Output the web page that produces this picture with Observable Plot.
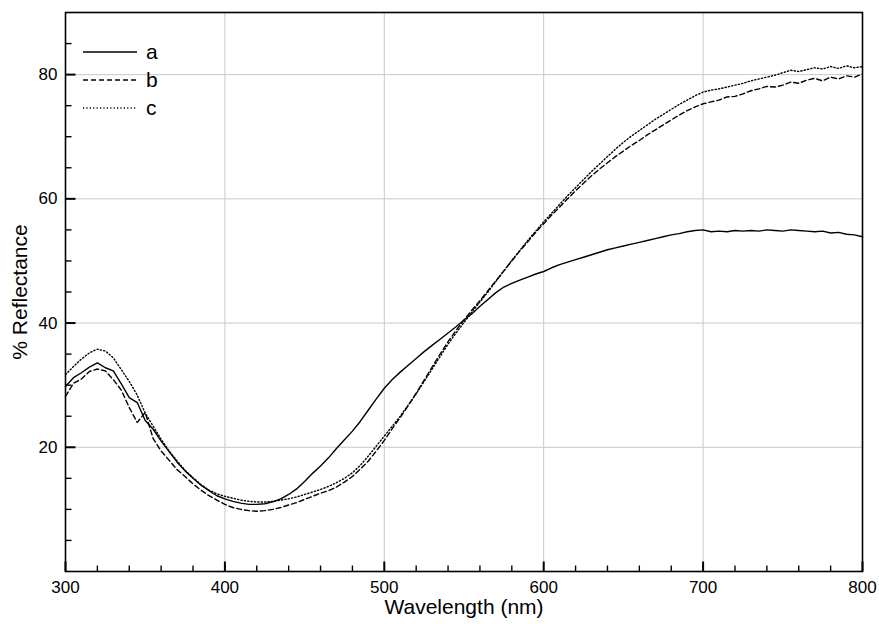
<!DOCTYPE html>
<html><head><meta charset="utf-8">
<script src="https://cdn.jsdelivr.net/npm/d3@7"></script>
<script src="https://cdn.jsdelivr.net/npm/@observablehq/plot@0.6"></script>
<style>
body{margin:0;background:#fff;}
#wrap{position:relative;width:879px;height:624px;}
#legend{position:absolute;left:0;top:0;pointer-events:none;}
</style>
</head><body><div id="wrap"></div>
<script>
const wavelength = [300,305,310,315,320,325,330,335,340,345,350,355,360,365,370,375,380,385,390,395,
400,405,410,415,420,425,430,435,440,445,450,455,460,465,470,475,480,485,490,495,
500,505,510,515,520,525,530,535,540,545,550,555,560,565,570,575,580,585,590,595,
600,605,610,615,620,625,630,635,640,645,650,655,660,665,670,675,680,685,690,695,
700,705,710,715,720,725,730,735,740,745,750,755,760,765,770,775,780,785,790,795,800];

const seriesA = [29.8,31.2,32.0,32.9,33.6,32.8,32.3,30.2,28.0,27.2,24.3,22.9,21.0,19.3,17.6,16.2,15.0,13.9,13.0,12.2,
11.7,11.3,11.0,10.8,10.8,10.9,11.2,11.7,12.4,13.3,14.5,15.8,17.0,18.3,19.8,21.2,22.6,24.2,26.0,27.8,
29.5,30.9,32.1,33.2,34.3,35.4,36.4,37.4,38.4,39.4,40.5,41.5,42.7,43.8,44.9,45.8,46.4,46.9,47.4,47.9,
48.3,48.9,49.4,49.8,50.2,50.6,51.0,51.4,51.8,52.1,52.4,52.7,53.0,53.3,53.6,53.9,54.2,54.4,54.7,54.9,
55.0,54.7,54.8,54.7,54.9,54.8,54.9,54.8,55.0,54.9,54.8,55.0,54.9,54.8,54.7,54.8,54.5,54.6,54.3,54.2,53.9];

const seriesB = [28.2,30.3,31.0,32.2,32.6,32.3,30.9,29.2,26.4,24.0,25.6,21.4,19.4,17.9,16.4,15.3,14.1,13.1,12.2,11.5,
10.8,10.3,10.0,9.8,9.7,9.8,10.0,10.3,10.7,11.1,11.6,12.1,12.6,13.0,13.6,14.4,15.3,16.5,17.8,19.4,
21.1,23.0,24.8,26.7,28.7,30.8,32.9,35.0,37.0,38.8,40.5,42.1,43.6,45.2,46.8,48.4,50.0,51.6,53.1,54.6,
56.0,57.4,58.7,60.0,61.3,62.5,63.7,64.8,65.8,66.8,67.7,68.6,69.4,70.3,71.1,71.9,72.7,73.5,74.2,74.8,
75.3,75.6,75.9,76.4,76.5,76.9,77.4,77.7,78.1,78.0,78.3,78.8,78.6,79.1,79.4,79.0,79.6,79.3,79.8,79.6,80.1];

const seriesC = [31.7,33.0,34.2,35.2,35.8,35.5,34.4,32.5,30.6,28.4,25.5,23.4,21.3,19.4,17.8,16.3,15.1,14.0,13.1,12.5,
12.1,11.8,11.5,11.3,11.2,11.2,11.3,11.5,11.7,12.0,12.4,12.8,13.2,13.7,14.3,15.0,15.9,17.1,18.6,20.2,
21.8,23.4,25.0,26.8,28.6,30.6,32.6,34.6,36.6,38.4,40.1,41.8,43.4,45.0,46.7,48.4,50.1,51.7,53.3,54.8,
56.3,57.7,59.1,60.5,61.8,63.1,64.4,65.6,66.8,68.0,69.1,70.1,71.0,71.9,72.8,73.6,74.4,75.2,75.9,76.6,
77.2,77.5,77.7,78.0,78.3,78.6,79.0,79.3,79.6,79.9,80.3,80.7,80.5,80.8,81.1,80.9,81.3,81.0,81.4,81.1,81.3];

const seriesNames = ["a", "b", "c"];
const xTicks = [300, 400, 500, 600, 700, 800];
const xGrid = [400, 500, 600, 700];
const xMinor = [320,340,360,380,420,440,460,480,520,540,560,580,620,640,660,680,720,740,760,780];
const yTicks = [20, 40, 60, 80];
const yMinor = [5,10,15,25,30,35,45,50,55,65,70,75,85];
const xLabel = "Wavelength (nm)";
const yLabel = "% Reflectance";

const dashes = {a: null, b: "5,3", c: "1.2,2.2"};
const allSeries = [seriesA, seriesB, seriesC];
const rows = [];
seriesNames.forEach((s, k) => {
  wavelength.forEach((w, i) => rows.push({series: s, wl: w, r: allSeries[k][i]}));
});

const font = "'Liberation Sans', Arial, Helvetica, sans-serif";
const W = 879, H = 624, mL = 65, mR = 17, mT = 12, mB = 53;
const xDom = [300, 800], yDom = [0, 90];
const plotW = W - mL - mR, plotH = H - mT - mB;
// inward tick lengths in pixels, converted to data units of each scale
const majorLen = 10, minorLen = 6;
const yPerPx = (yDom[1] - yDom[0]) / plotH;
const xPerPx = (xDom[1] - xDom[0]) / plotW;

const plot = Plot.plot({
  width: W, height: H,
  marginLeft: mL, marginRight: mR, marginTop: mT, marginBottom: mB,
  x: {domain: xDom, label: null},
  y: {domain: yDom, label: null},
  style: {fontFamily: font, fontSize: "17px", color: "#000", background: "#fff", overflow: "visible"},
  marks: [
    Plot.gridX(xGrid, {stroke: "#c8c8c8", strokeOpacity: 1, strokeWidth: 1}),
    Plot.gridY(yTicks, {stroke: "#c8c8c8", strokeOpacity: 1, strokeWidth: 1}),
    ...seriesNames.map(s => Plot.line(rows.filter(d => d.series === s), {
      x: "wl", y: "r", stroke: "#000", strokeWidth: 1.4, strokeDasharray: dashes[s]
    })),
    Plot.axisX(xTicks, {tickSize: 0, tickPadding: 9, fontSize: 17, label: null}),
    Plot.axisY(yTicks, {tickSize: 0, tickPadding: 8, fontSize: 17, label: null}),
    Plot.link(xTicks, {x1: d => d, x2: d => d, y1: () => yDom[0], y2: () => yDom[0] + majorLen * yPerPx, stroke: "#000", strokeWidth: 2}),
    Plot.link(xMinor, {x1: d => d, x2: d => d, y1: () => yDom[0], y2: () => yDom[0] + minorLen * yPerPx, stroke: "#000", strokeWidth: 1.4}),
    Plot.link(yTicks, {y1: d => d, y2: d => d, x1: () => xDom[0], x2: () => xDom[0] + majorLen * xPerPx, stroke: "#000", strokeWidth: 2}),
    Plot.link(yMinor, {y1: d => d, y2: d => d, x1: () => xDom[0], x2: () => xDom[0] + minorLen * xPerPx, stroke: "#000", strokeWidth: 1.4}),
    Plot.frame({stroke: "#000", strokeWidth: 1.6}),
    Plot.text([xLabel], {frameAnchor: "bottom", lineAnchor: "middle", textAnchor: "middle", dy: 36, fontSize: 21, fontFamily: font}),
    Plot.text([yLabel], {frameAnchor: "left", lineAnchor: "middle", textAnchor: "middle", rotate: -90, dx: -45, fontSize: 21, fontFamily: font})
  ]
});

const wrap = document.getElementById("wrap");
wrap.appendChild(plot);

// legend overlay (inside the plot area, top-left)
const ns = "http://www.w3.org/2000/svg";
const lg = document.createElementNS(ns, "svg");
lg.setAttribute("id", "legend");
lg.setAttribute("width", W);
lg.setAttribute("height", H);
seriesNames.forEach((s, i) => {
  const yy = 52 + i * 28;
  const ln = document.createElementNS(ns, "line");
  ln.setAttribute("x1", 83); ln.setAttribute("x2", 137);
  ln.setAttribute("y1", yy); ln.setAttribute("y2", yy);
  ln.setAttribute("stroke", "#000"); ln.setAttribute("stroke-width", 1.5);
  if (dashes[s]) ln.setAttribute("stroke-dasharray", dashes[s]);
  lg.appendChild(ln);
  const tx = document.createElementNS(ns, "text");
  tx.setAttribute("x", 146); tx.setAttribute("y", yy + 7);
  tx.setAttribute("font-family", font); tx.setAttribute("font-size", 21);
  tx.textContent = s;
  lg.appendChild(tx);
});
wrap.appendChild(lg);
</script>
</body></html>
